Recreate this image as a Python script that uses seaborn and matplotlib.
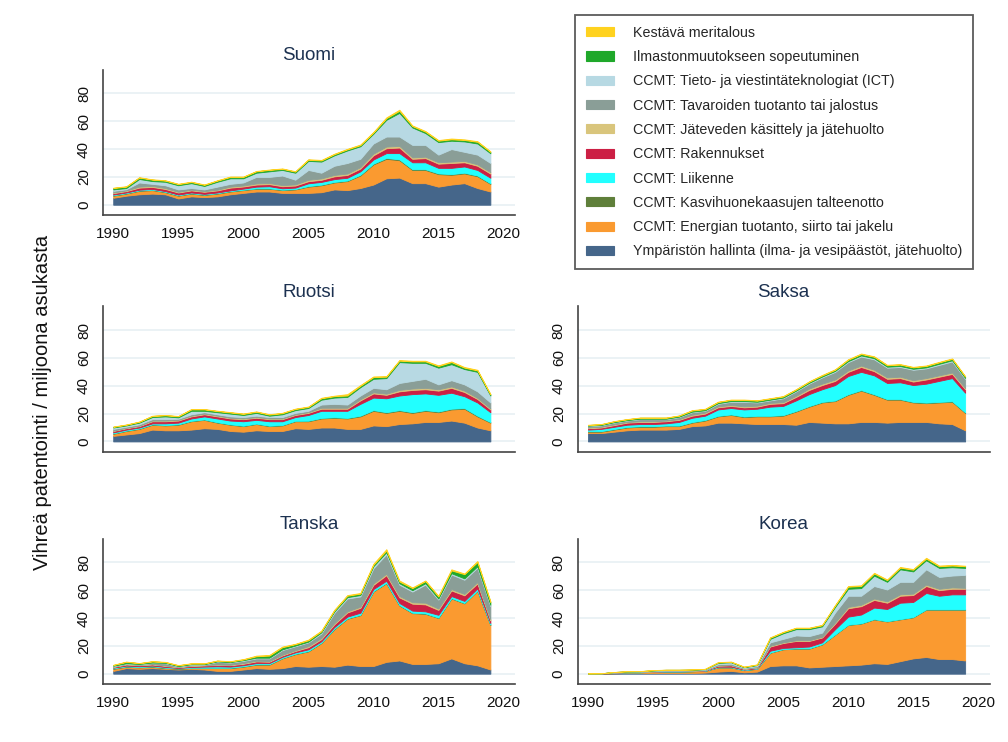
import matplotlib
matplotlib.use("Agg")
import matplotlib.pyplot as plt
import matplotlib.patches as mpatches
import seaborn as sns

# Years on the x axis
years = list(range(1990, 2020))

# Series labels, bottom of the stack first
labels = [
    "Ympäristön hallinta (ilma- ja vesipäästöt, jätehuolto)",
    "CCMT: Energian tuotanto, siirto tai jakelu",
    "CCMT: Kasvihuonekaasujen talteenotto",
    "CCMT: Liikenne",
    "CCMT: Rakennukset",
    "CCMT: Jäteveden käsittely ja jätehuolto",
    "CCMT: Tavaroiden tuotanto tai jalostus",
    "CCMT: Tieto- ja viestintäteknologiat (ICT)",
    "Ilmastonmuutokseen sopeutuminen",
    "Kestävä meritalous",
]
colors = ["#45668a", "#fa9a30", "#5f7f3a", "#22ffff", "#cc1f44",
          "#d9c57c", "#8a9e97", "#b7d9e3", "#1fa82a", "#ffd21f"]

# Suomi
fi_ymp = [5, 6.5, 7.5, 8, 7.5, 4.5, 6, 5.5, 6, 7.5, 8.5, 9.5, 9.5, 8.5, 8.5, 8.5, 9, 11, 10.5, 12, 14.5, 19, 19.5, 15.5, 15.5, 13, 14.5, 15.5, 12, 9.5]
fi_ene = [1.5, 1.5, 2.5, 2.5, 1.5, 2, 2, 1.5, 2, 2, 2, 2, 2, 2, 2.5, 4.5, 5, 5, 6.5, 9, 14.5, 14, 12.5, 9.5, 9.5, 9, 7, 7, 8.5, 5.5]
fi_kas = [0.3, 0.3, 0.3, 0.3, 0.3, 0.3, 0.3, 0.3, 0.3, 0.3, 0.3, 0.3, 0.3, 0.3, 0.3, 0.4, 0.4, 0.4, 0.4, 0.5, 0.5, 0.6, 0.6, 0.5, 0.5, 0.5, 0.5, 0.5, 0.5, 0.4]
fi_lii = [0.5, 0.5, 0.5, 0.5, 0.5, 0.5, 0.5, 0.5, 0.5, 0.5, 0.8, 1.2, 1.5, 1, 1, 2, 2, 2, 2, 2.5, 3, 3.5, 4.5, 5, 5, 4, 4.5, 4.5, 4, 4]
fi_rak = [1, 1, 1.5, 1.5, 1.5, 1.5, 1.5, 1.5, 1.5, 2, 1.5, 1.5, 1.5, 1.5, 1.5, 1.5, 1.5, 2, 2, 2, 3, 3.5, 4, 2.5, 3, 3, 3.5, 3, 3, 3]
fi_jat = [0.5, 0.5, 0.7, 0.7, 0.7, 0.5, 0.5, 0.5, 0.5, 0.7, 0.7, 0.8, 0.8, 0.8, 0.8, 1, 1, 1, 1, 1, 1.2, 1.2, 1.2, 1, 1, 1, 1, 1, 1, 1]
fi_tav = [1.2, 0.8, 3, 1.5, 2, 1.7, 1.2, 1.2, 2.2, 2, 2.2, 4.7, 4.4, 6.9, 3.4, 7.1, 4.1, 6.6, 7.6, 6, 7.3, 7.2, 6.7, 9, 8.5, 5.5, 9, 6.5, 7, 6.6]
fi_ict = [1, 0.9, 2.5, 2, 2.5, 3, 3.5, 2.5, 3.5, 4, 3, 3, 4, 4, 5, 6.5, 8, 7.5, 9, 9, 7, 12, 17, 12.5, 8.5, 9, 6, 7.5, 8, 7]
fi_ilm = [1, 1, 1, 1, 0.8, 0.8, 0.8, 0.8, 0.8, 1, 1, 1, 1, 0.8, 0.8, 0.8, 0.8, 0.8, 0.8, 0.8, 0.8, 1.2, 1.5, 1, 1, 1, 1, 1, 1.2, 1]
fi_kes = [0.3, 0.3, 0.3, 0.3, 0.3, 0.3, 0.3, 0.3, 0.3, 0.3, 0.3, 0.3, 0.3, 0.3, 0.3, 0.4, 0.4, 0.4, 0.4, 0.5, 0.5, 0.6, 0.8, 0.5, 0.5, 0.5, 0.6, 0.5, 0.5, 0.4]

# Ruotsi
se_ymp = [4, 5, 6, 8.5, 8, 8, 8.5, 9.5, 9, 7.5, 7, 8, 7.5, 7.5, 9.5, 9, 10, 10, 9, 9, 11.5, 11, 12.5, 13, 14, 14, 15, 13.5, 10, 8]
se_ene = [1.5, 2.5, 3, 3.5, 3.5, 4, 6, 6, 4.5, 4.5, 4, 4.5, 3.5, 4, 5, 5.5, 6.5, 7, 7.5, 9, 10.5, 9.5, 9.5, 7.5, 8, 7, 8, 10, 8, 5.5]
se_kas = [0.3, 0.3, 0.3, 0.3, 0.3, 0.3, 0.3, 0.3, 0.3, 0.3, 0.3, 0.3, 0.3, 0.3, 0.3, 0.4, 0.4, 0.4, 0.4, 0.5, 0.5, 0.5, 0.5, 0.5, 0.5, 0.5, 0.5, 0.5, 0.5, 0.4]
se_lii = [0.7, 0.7, 0.7, 0.7, 1.2, 1.2, 1.7, 2.2, 2.7, 2.7, 3.2, 2.7, 3.2, 2.7, 2.7, 4.1, 5.1, 4.6, 5.1, 8.5, 9, 10, 10.5, 13, 12, 12, 11.5, 8.5, 9.5, 7.1]
se_rak = [1, 1, 1, 1.5, 1.5, 1.5, 1.5, 1.5, 1.5, 1.5, 1.5, 1.5, 1.5, 1.5, 1.5, 1.5, 1.5, 1.5, 1.5, 2.5, 3, 2.5, 3, 3, 3, 3, 3.5, 3, 2.5, 2]
se_jat = [0.3, 0.3, 0.3, 0.5, 0.5, 0.5, 0.5, 0.5, 0.5, 0.5, 0.5, 0.5, 0.5, 0.5, 0.5, 0.5, 0.7, 0.7, 0.7, 0.8, 0.8, 0.8, 1, 1, 1, 1, 1, 1, 0.8, 0.7]
se_tav = [1.2, 0.8, 1, 1, 1, 0.8, 1, 1, 1, 1, 1, 1, 1, 1, 1, 1, 2.3, 2.8, 2.3, 2.7, 3.2, 3.2, 5, 5.5, 6.5, 3.5, 4.5, 4.5, 4.7, 4.3]
se_ict = [1, 0.9, 1.2, 1.5, 2, 1, 2.5, 1, 1.5, 2, 1.5, 2, 1, 2, 2, 2, 3.5, 4.5, 5.5, 6, 6.5, 8, 15, 13, 11.5, 12, 11.5, 11, 14, 5]
se_ilm = [0.5, 0.5, 0.6, 0.8, 0.8, 0.8, 1, 1, 0.8, 0.8, 0.8, 0.8, 0.8, 0.8, 0.8, 0.8, 1, 1, 1, 1, 1.2, 1, 1, 1, 1, 1.2, 1.5, 1, 1, 0.8]
se_kes = [0.2, 0.2, 0.2, 0.2, 0.2, 0.2, 0.3, 0.3, 0.3, 0.3, 0.3, 0.3, 0.3, 0.3, 0.3, 0.3, 0.4, 0.4, 1, 0.5, 0.5, 0.5, 0.5, 0.5, 0.5, 0.5, 0.5, 0.5, 0.5, 0.3]

# Saksa
de_ymp = [6, 6, 7, 8, 8.5, 8.5, 8.5, 9, 11, 11.5, 13.5, 13.5, 13, 12.5, 12.5, 12.5, 12, 14, 13.5, 13, 13, 14, 14, 13.5, 14, 14, 14, 13, 12.5, 8]
de_ene = [1, 1, 1.5, 2, 2, 2, 2.5, 2, 2.5, 3.5, 4.5, 5.5, 4.5, 5.5, 5.5, 6, 9.5, 11, 14.5, 16, 20.5, 22.5, 19.5, 16.5, 16, 14, 13.5, 15, 16, 12.5]
de_kas = [0.4, 0.4, 0.4, 0.4, 0.4, 0.4, 0.4, 0.4, 0.4, 0.4, 0.4, 0.4, 0.4, 0.4, 0.4, 0.4, 0.4, 0.4, 0.4, 0.4, 0.4, 0.4, 0.4, 0.4, 0.4, 0.4, 0.4, 0.4, 0.4, 0.4]
de_lii = [1.1, 1.6, 1.6, 1.6, 1.6, 1.6, 1.6, 2.6, 3.1, 3.1, 4.6, 4.6, 5.1, 5.1, 6.6, 6.6, 7.6, 8.6, 9.1, 11.1, 13.1, 13.1, 13.6, 11.6, 12.1, 12.1, 13.6, 15.1, 16.6, 14.1]
de_rak = [1, 1, 1.2, 1.5, 1.5, 1.5, 1.5, 1.5, 1.5, 1.5, 1.5, 1.5, 1.5, 1.5, 2, 2, 2.5, 3, 3, 3, 3, 3.5, 3, 3, 3, 2.5, 3, 3, 3, 2.5]
de_jat = [0.5, 0.5, 0.5, 0.5, 0.5, 0.5, 0.5, 0.5, 0.7, 0.7, 0.7, 0.7, 0.7, 0.7, 0.7, 0.7, 0.8, 1, 1, 1, 1, 1, 1, 1, 1, 1, 1, 1, 1, 0.8]
de_tav = [1, 1, 1.3, 1, 1.5, 1.5, 1, 1.5, 1.8, 1.3, 1.8, 2.3, 3.3, 2.3, 1.8, 2.8, 3.2, 3.5, 4.5, 5.5, 6, 6.5, 7.5, 7, 7, 7.5, 7, 7.5, 8, 6.7]
de_ict = [0.3, 0.3, 0.3, 0.3, 0.3, 0.3, 0.3, 0.3, 0.4, 0.4, 0.5, 0.5, 0.5, 0.5, 0.5, 0.5, 0.5, 0.6, 0.6, 0.7, 0.7, 0.8, 0.8, 0.7, 0.7, 0.7, 0.7, 0.8, 0.8, 0.6]
de_ilm = [0.5, 0.5, 0.6, 0.6, 0.7, 0.7, 0.7, 0.7, 0.8, 0.8, 0.8, 0.8, 0.8, 0.8, 0.8, 0.8, 0.8, 0.8, 0.8, 0.8, 1, 1, 1, 1, 1, 1, 1, 1, 1, 1]
de_kes = [0.2, 0.2, 0.2, 0.2, 0.2, 0.2, 0.2, 0.2, 0.3, 0.3, 0.3, 0.3, 0.3, 0.3, 0.3, 0.3, 0.3, 0.3, 0.4, 0.4, 0.4, 0.4, 0.4, 0.4, 0.4, 0.4, 0.4, 0.4, 0.4, 0.3]

# Tanska
dk_ymp = [2, 4, 3.5, 4, 3.5, 3, 3.5, 3, 2, 2, 3, 4, 3.5, 4, 5.5, 5, 5.5, 5, 6.5, 5.5, 5.5, 8.5, 9.5, 7, 7, 7.5, 11, 7.5, 6, 3]
dk_ene = [1.5, 1, 1, 1, 0.5, 0.5, 0.5, 1, 2, 2, 2, 2.5, 3, 7, 8.5, 11, 16.5, 27, 33, 36.5, 53.5, 56.5, 39.5, 36.5, 36, 32.5, 43, 43, 53.5, 32]
dk_kas = [0.3, 0.3, 0.3, 0.3, 0.3, 0.3, 0.3, 0.3, 0.3, 0.3, 0.3, 0.3, 0.3, 0.3, 0.3, 0.3, 0.3, 0.3, 0.3, 0.3, 0.3, 0.3, 0.3, 0.3, 0.3, 0.3, 0.3, 0.3, 0.3, 0.3]
dk_lii = [0.5, 0.5, 0.5, 0.5, 0.5, 0.3, 0.5, 0.8, 1, 0.8, 0.8, 0.8, 0.8, 0.8, 1, 1.2, 1, 1.2, 1.2, 1.5, 1.5, 1.5, 1.5, 1.5, 1.5, 2, 1.5, 1.5, 1.5, 1]
dk_rak = [0.5, 0.8, 0.8, 0.8, 0.8, 0.5, 0.8, 0.8, 1, 1, 1, 1.2, 1, 1, 1, 1.5, 1.5, 2, 3, 3.5, 3, 4, 4, 5, 5, 3.5, 4, 4, 3.5, 2]
dk_jat = [0.3, 0.3, 0.3, 0.3, 0.3, 0.3, 0.3, 0.3, 0.3, 0.3, 0.5, 0.5, 0.5, 0.5, 0.5, 0.8, 0.8, 0.8, 0.8, 0.8, 1, 1, 1, 1, 1.2, 1, 1, 1, 1, 0.8]
dk_tav = [0.3, 0.3, 0.3, 0.8, 1.6, 0.3, 0.6, 0.3, 1.9, 1.6, 1.6, 1.7, 1.9, 3.4, 2.9, 2.7, 3.3, 7.4, 9.2, 7.4, 10.9, 14, 8.2, 7.7, 13, 6.4, 10.4, 10.2, 10.4, 9.6]
dk_ict = [0.3, 0.3, 0.3, 0.3, 0.3, 0.3, 0.3, 0.3, 0.3, 0.3, 0.5, 0.5, 0.5, 0.5, 0.5, 0.5, 0.8, 1, 1, 1, 1.5, 1.5, 1, 1, 1, 0.8, 1, 1, 1, 0.8]
dk_ilm = [0.5, 1, 0.5, 0.8, 0.5, 0.5, 0.5, 0.5, 0.5, 0.5, 0.5, 1, 1.5, 1.5, 1, 1, 0.8, 0.8, 1, 1, 1, 1.2, 1.2, 1.5, 1.5, 1.5, 2, 3, 3, 2]
dk_kes = [0.2, 0.2, 0.2, 0.2, 0.2, 0.2, 0.2, 0.2, 0.2, 0.2, 0.3, 0.5, 0.5, 0.5, 0.3, 0.5, 0.5, 0.5, 0.5, 0.5, 0.8, 1, 0.8, 0.5, 0.5, 0.5, 0.8, 0.5, 0.8, 0.5]

# Korea
kr_ymp = [0, 0.1, 0.3, 0.5, 0.5, 0.5, 0.5, 0.5, 0.5, 0.8, 1.5, 2, 1, 1.5, 5.5, 6, 6, 4.5, 5, 5.5, 6, 6.5, 7.5, 7, 9, 11, 12, 10.5, 10.5, 9.5]
kr_ene = [0.2, 0.2, 0.4, 0.5, 0.5, 0.8, 1, 1, 1.2, 1.2, 3, 2.5, 1.5, 2, 9.5, 11.5, 12, 13.5, 16, 22.5, 29, 29.5, 31.5, 30.5, 30, 29.5, 34, 35.5, 35.5, 36.5]
kr_kas = [0, 0, 0, 0, 0, 0.1, 0.1, 0.1, 0.1, 0.1, 0.1, 0.1, 0.1, 0.1, 0.2, 0.2, 0.2, 0.2, 0.2, 0.2, 0.2, 0.2, 0.2, 0.2, 0.2, 0.2, 0.2, 0.2, 0.2, 0.2]
kr_lii = [0, 0, 0.1, 0.1, 0.1, 0.1, 0.1, 0.1, 0.1, 0.2, 0.4, 0.4, 0.3, 0.3, 1.3, 0.8, 0.8, 1.3, 1.3, 3.8, 5.8, 6.3, 8.3, 8.8, 11.8, 10.8, 11.8, 9.8, 10.8, 10.8]
kr_rak = [0, 0, 0.1, 0.1, 0.1, 0.1, 0.2, 0.2, 0.2, 0.2, 0.8, 1, 0.5, 0.5, 3, 3.5, 4.5, 4, 3.5, 4, 6, 6, 5.5, 4.5, 5, 5, 5, 4, 4, 4]
kr_jat = [0, 0, 0, 0.1, 0.1, 0.1, 0.1, 0.1, 0.1, 0.1, 0.2, 0.2, 0.2, 0.2, 0.5, 0.5, 0.5, 0.5, 0.5, 0.8, 1, 1, 1, 1, 1, 1, 1, 1, 1, 0.7]
kr_tav = [0, 0, 0.1, 0.1, 0.2, 0.3, 0.3, 0.3, 0.3, 0.3, 0.8, 1, 0.5, 0.8, 2.5, 2.5, 3.5, 3, 3, 7.2, 8, 6.5, 9, 8.5, 9, 8.5, 11, 8.5, 8.5, 9.3]
kr_ict = [0, 0, 0.1, 0.2, 0.2, 0.3, 0.3, 0.3, 0.3, 0.3, 1, 1, 0.5, 0.8, 2.5, 4, 4.5, 5, 4.5, 4, 5, 5.5, 7.5, 5.5, 9, 7.5, 6.5, 6.5, 6, 5]
kr_ilm = [0, 0, 0.1, 0.1, 0.1, 0.2, 0.2, 0.2, 0.2, 0.2, 0.3, 0.3, 0.3, 0.3, 0.8, 0.8, 0.8, 0.8, 0.8, 1, 1.5, 1.5, 1.5, 1.2, 1.2, 1.2, 1.2, 1.2, 1.2, 1.2]
kr_kes = [0, 0, 0, 0.1, 0.1, 0.1, 0.1, 0.1, 0.1, 0.1, 0.2, 0.2, 0.2, 0.2, 0.3, 0.3, 0.3, 0.3, 0.3, 0.4, 0.5, 0.5, 0.5, 0.5, 0.5, 0.5, 0.6, 0.5, 0.5, 0.4]

countries = {
    "Suomi": [fi_ymp, fi_ene, fi_kas, fi_lii, fi_rak, fi_jat, fi_tav, fi_ict, fi_ilm, fi_kes],
    "Ruotsi": [se_ymp, se_ene, se_kas, se_lii, se_rak, se_jat, se_tav, se_ict, se_ilm, se_kes],
    "Saksa": [de_ymp, de_ene, de_kas, de_lii, de_rak, de_jat, de_tav, de_ict, de_ilm, de_kes],
    "Tanska": [dk_ymp, dk_ene, dk_kas, dk_lii, dk_rak, dk_jat, dk_tav, dk_ict, dk_ilm, dk_kes],
    "Korea": [kr_ymp, kr_ene, kr_kas, kr_lii, kr_rak, kr_jat, kr_tav, kr_ict, kr_ilm, kr_kes],
}

sns.set_style("white")
plt.rcParams["font.family"] = ["Liberation Sans", "DejaVu Sans"]

fig = plt.figure(figsize=(10.08, 7.42), dpi=100)

# axes rectangles in figure fractions
left_col, right_col, ax_w = 0.102, 0.573, 0.409
rows = {"top": 0.710, "mid": 0.391, "bot": 0.078}
ax_h = 0.196
positions = {
    "Suomi": (left_col, rows["top"], True),
    "Ruotsi": (left_col, rows["mid"], False),
    "Saksa": (right_col, rows["mid"], False),
    "Tanska": (left_col, rows["bot"], True),
    "Korea": (right_col, rows["bot"], True),
}

axis_col = "#444444"
for name, (x0, y0, show_x) in positions.items():
    ax = fig.add_axes([x0, y0, ax_w, ax_h])
    ax.stackplot(years, *countries[name], colors=colors,
                 edgecolor="face", linewidth=0.6)
    ax.set_xlim(1989.2, 2020.9)
    ax.set_ylim(-7.5, 97)
    ax.set_xticks(range(1990, 2021, 5))
    ax.set_yticks([0, 20, 40, 60, 80])
    ax.yaxis.grid(True, color="#e8f0f3", linewidth=1.2)
    ax.set_axisbelow(True)
    sns.despine(ax=ax)
    for s in ("left", "bottom"):
        ax.spines[s].set_color(axis_col)
        ax.spines[s].set_linewidth(1.2)
    ax.tick_params(axis="both", direction="out", length=5, width=1.1,
                   color=axis_col, labelsize=11, labelcolor="#111111")
    plt.setp(ax.get_yticklabels(), rotation=90, va="center")
    if not show_x:
        ax.set_xticklabels([])
    ax.set_title(name, fontsize=13.5, color="#1c3150", pad=7)

fig.text(0.042, 0.458, "Vihreä patentointi / miljoona asukasta",
         rotation=90, ha="center", va="center", fontsize=14.5, color="#111111")

handles = [mpatches.Patch(facecolor=c, edgecolor=c, linewidth=0.8, label=l)
           for c, l in zip(colors, labels)]
leg = fig.legend(handles=handles[::-1], loc="upper left",
                 bbox_to_anchor=(575 / 1008, 1 - 15 / 742),
                 fontsize=10.3, frameon=True, fancybox=False,
                 labelspacing=0.72, handlelength=1.95, handleheight=0.6,
                 handletextpad=1.35, borderpad=0.75, borderaxespad=0)
leg.get_frame().set_edgecolor("#333333")
leg.get_frame().set_linewidth(1.3)

fig.savefig("out.png", dpi=100, facecolor="white")
